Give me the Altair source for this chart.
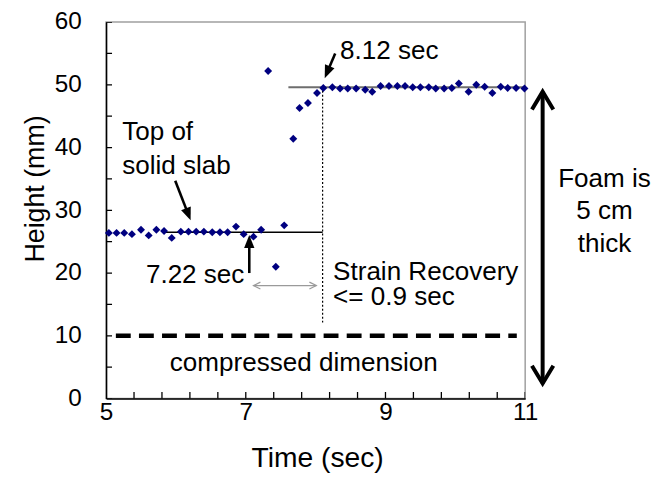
import math
import altair as alt
import pandas as pd

# ---------------- measured data ----------------
time_s = [5.04, 5.15, 5.26, 5.37, 5.50, 5.61, 5.72, 5.83, 5.94, 6.07,
          6.18, 6.29, 6.40, 6.52, 6.63, 6.74, 6.86, 6.97, 7.11, 7.22,
          7.32, 7.43, 7.55, 7.68, 7.77, 7.89, 8.02, 8.11, 8.24, 8.35,
          8.46, 8.58, 8.71, 8.81, 8.93, 9.05, 9.17, 9.28, 9.39, 9.50,
          9.62, 9.72, 9.84, 9.95, 10.05, 10.19, 10.30, 10.42, 10.53, 10.65,
          10.75, 10.87, 10.99]
height_mm = [26.4, 26.4, 26.4, 26.2, 26.9, 26.0, 26.9, 26.7, 25.6, 26.6,
             26.6, 26.6, 26.6, 26.5, 26.5, 26.5, 27.4, 26.2, 25.8, 26.9,
             52.2, 21.0, 27.6, 41.4, 46.3, 47.1, 48.7, 49.5, 49.6, 49.4,
             49.4, 49.4, 49.2, 48.9, 49.8, 49.8, 49.8, 49.8, 49.6, 49.6,
             49.6, 49.4, 49.4, 49.5, 50.2, 48.9, 50.0, 49.7, 48.7, 49.7,
             49.5, 49.5, 49.4]

x_label_values = [5, 7, 9, 11]
x_tick_values = [5.0, 5.4, 5.8, 6.2, 6.6, 7.0, 7.4, 7.8, 8.2, 8.6, 9.0,
                 9.4, 9.8, 10.2, 10.6, 11.0]
y_label_values = [0, 10, 20, 30, 40, 50, 60]
y_tick_values = [0, 5, 10, 15, 20, 25, 30, 35, 40, 45, 50, 55, 60]

# reference lines
slab_line_t = [5.85, 8.10]
slab_line_h = 26.5
top_line_t = [7.61, 11.0]
top_line_h = 49.6
recovery_t = 8.10
recovery_h = [12.1, 49.6]
compressed_t = [5.14, 10.88]
compressed_h = 10.0

# gray double arrow (strain recovery interval)
interval_t = [7.11, 8.01]
interval_h = 18.0

# filled arrows: tail -> tip
arrow_tail_t = [5.99, 7.05, 8.28]
arrow_tail_h = [34.7, 20.0, 55.0]
arrow_tip_t = [6.21, 7.05, 8.13]
arrow_tip_h = [28.4, 26.05, 51.05]

# thickness double arrow on the right
thick_t = 11.25
thick_h = [2.4, 48.9]

# annotation texts
left_labels = ["Top of", "solid slab", "Strain Recovery", "<= 0.9 sec", "8.12 sec"]
left_t = [5.23, 5.23, 8.25, 8.25, 8.35]
left_h = [41.16, 35.79, 18.84, 14.84, 54.11]
right_labels = ["7.22 sec"]
right_t = [6.98]
right_h = [18.42]
center_labels = ["compressed dimension", "Foam is", "5 cm", "thick"]
center_t = [7.83, 12.135, 12.135, 12.135]
center_h = [4.37, 33.79, 28.69, 23.42]

# ---------------- chart setup ----------------
W, H = 423, 380
X_DOMAIN = [5, 11]
Y_DOMAIN = [0, 60]
ppt = W / (X_DOMAIN[1] - X_DOMAIN[0])
pph = H / (Y_DOMAIN[1] - Y_DOMAIN[0])
FONT = "Liberation Sans"
ANN_SIZE = 26.3

xscale = alt.Scale(domain=X_DOMAIN, nice=False, zero=False)
yscale = alt.Scale(domain=Y_DOMAIN, nice=False, zero=False)

xaxis = alt.Axis(values=x_label_values, title="Time (sec)", ticks=False, tickSize=0,
                 grid=False, labelFont=FONT, labelFontSize=24.5, labelColor="black",
                 labelPadding=2, labelFlush=False, labelOverlap=False,
                 domainColor="black", domainWidth=1.5,
                 titleFont=FONT, titleFontSize=28.5, titleFontWeight="normal",
                 titleColor="black", titleX=213, titleY=69, titleAlign="center",
                 titleBaseline="alphabetic")
yaxis = alt.Axis(values=y_label_values, title="Height (mm)", ticks=False, tickSize=0,
                 grid=False, labelFont=FONT, labelFontSize=24.5, labelColor="black",
                 labelPadding=25, labelFlush=False, labelOverlap=False,
                 domainColor="black", domainWidth=1.5,
                 titleFont=FONT, titleFontSize=27, titleFontWeight="normal",
                 titleColor="black", titleX=-63, titleY=168, titleAlign="center",
                 titleBaseline="alphabetic", titleAngle=270)


def X(f="t"):
    return alt.X(f"{f}:Q", scale=xscale, axis=xaxis)


def Y(f="h"):
    return alt.Y(f"{f}:Q", scale=yscale, axis=yaxis)


layers = []

# inward axis ticks (half of each tick clipped away)
layers.append(alt.Chart(pd.DataFrame({"t": x_tick_values, "h": 0.0})).mark_tick(
    orient="vertical", size=13, thickness=1.3, color="black", opacity=1, clip=True
).encode(x=X(), y=Y()))
layers.append(alt.Chart(pd.DataFrame({"t": 5.0, "h": y_tick_values})).mark_tick(
    orient="horizontal", size=12, thickness=1.3, color="black", opacity=1, clip=True
).encode(x=X(), y=Y()))

# reference lines
layers.append(alt.Chart(pd.DataFrame({"t": [slab_line_t[0]], "t2": [slab_line_t[1]], "h": [slab_line_h]}))
              .mark_rule(color="black", strokeWidth=1.5)
              .encode(x=X(), x2="t2:Q", y=Y()))
layers.append(alt.Chart(pd.DataFrame({"t": [top_line_t[0]], "t2": [top_line_t[1]], "h": [top_line_h]}))
              .mark_rule(color="#6e6e6e", strokeWidth=2)
              .encode(x=X(), x2="t2:Q", y=Y()))
layers.append(alt.Chart(pd.DataFrame({"t": [recovery_t], "h": [recovery_h[0]], "h2": [recovery_h[1]]}))
              .mark_rule(color="black", strokeWidth=1.2, strokeDash=[2, 2])
              .encode(x=X(), y=Y(), y2="h2:Q"))
layers.append(alt.Chart(pd.DataFrame({"t": [compressed_t[0]], "t2": [compressed_t[1]], "h": [compressed_h]}))
              .mark_rule(color="black", strokeWidth=4.5, strokeDash=[15, 8.3])
              .encode(x=X(), x2="t2:Q", y=Y()))

# gray interval double arrow
layers.append(alt.Chart(pd.DataFrame({"t": [interval_t[0]], "t2": [interval_t[1]], "h": [interval_h]}))
              .mark_rule(color="#9a9a9a", strokeWidth=1.2)
              .encode(x=X(), x2="t2:Q", y=Y()))
layers.append(alt.Chart(pd.DataFrame({"t": interval_t, "h": [interval_h, interval_h], "a": [270, 90]}))
              .mark_point(shape="M-0.5,1L0,0L0.5,1", filled=False, size=196, stroke="#9a9a9a",
                          strokeWidth=1.2, opacity=1)
              .encode(x=X(), y=Y(), angle=alt.Angle("a:Q", scale=None)))

# filled black arrows
head_len = 13
rows_shaft, rows_head = [], []
for tt, th, pt, ph in zip(arrow_tail_t, arrow_tail_h, arrow_tip_t, arrow_tip_h):
    dx = (pt - tt) * ppt
    dy = (ph - th) * pph
    L = math.hypot(dx, dy)
    frac = (L - head_len * 0.6) / L
    rows_shaft.append({"t": tt, "h": th, "t2": tt + frac * (pt - tt), "h2": th + frac * (ph - th)})
    ang = math.degrees(math.atan2(dx, dy)) % 360
    rows_head.append({"t": pt, "h": ph, "a": ang})
layers.append(alt.Chart(pd.DataFrame(rows_shaft)).mark_rule(color="black", strokeWidth=2.6)
              .encode(x=X(), y=Y(), x2="t2:Q", y2="h2:Q"))
layers.append(alt.Chart(pd.DataFrame(rows_head))
              .mark_point(shape="M0,0L-0.4,1L0.4,1Z", filled=True, size=(2 * head_len) ** 2,
                          color="black", opacity=1)
              .encode(x=X(), y=Y(), angle=alt.Angle("a:Q", scale=None)))

# thick double arrow on the right
layers.append(alt.Chart(pd.DataFrame({"t": [thick_t], "h": [thick_h[0]], "h2": [thick_h[1]]}))
              .mark_rule(color="black", strokeWidth=4)
              .encode(x=X(), y=Y(), y2="h2:Q"))
layers.append(alt.Chart(pd.DataFrame({"t": [thick_t, thick_t], "h": thick_h, "a": [180, 0]}))
              .mark_point(shape="M-0.6,1L0,0L0.6,1", filled=False, size=1296, stroke="black",
                          strokeWidth=4, opacity=1)
              .encode(x=X(), y=Y(), angle=alt.Angle("a:Q", scale=None)))

# data points
layers.append(alt.Chart(pd.DataFrame({"t": time_s, "h": height_mm}))
              .mark_point(shape="diamond", filled=True, size=64, color="#000080", opacity=1)
              .encode(x=X(), y=Y()))

# texts
for labels, ts, hs, al in [(left_labels, left_t, left_h, "left"),
                           (right_labels, right_t, right_h, "right"),
                           (center_labels, center_t, center_h, "center")]:
    layers.append(alt.Chart(pd.DataFrame({"t": ts, "h": hs, "label": labels}))
                  .mark_text(font=FONT, fontSize=ANN_SIZE, align=al, baseline="alphabetic", color="black")
                  .encode(x=X(), y=Y(), text="label:N"))

chart = alt.layer(*layers).properties(
    width=W, height=H,
    autosize=alt.AutoSizeParams(type="none"),
    padding={"left": 99, "top": 12, "right": 127, "bottom": 76},
    background="white",
).configure_view(stroke="#a0a0a0", strokeWidth=1.5)

chart.save("out.html", embed_options={"renderer": "svg", "actions": False})
